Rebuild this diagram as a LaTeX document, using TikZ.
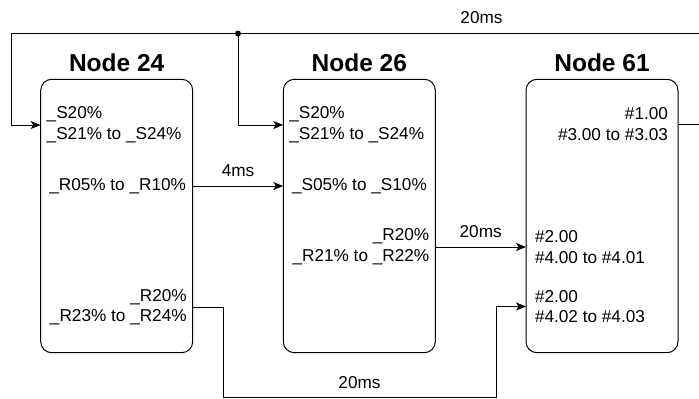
\documentclass[tikz,border=0pt]{standalone}
\usepackage{fontspec}
\setmainfont{Liberation Sans}
\usetikzlibrary{arrows.meta,positioning}

\begin{document}
\begin{tikzpicture}[x=1pt,y=-1pt,>={Stealth[length=10pt,width=8pt,inset=2.5pt]},line width=1pt,
    box/.style={draw,rounded corners=11pt,minimum width=152pt,minimum height=273.4pt,inner sep=0pt,outer sep=0pt},
    title/.style={font=\fontsize{24.5}{29}\selectfont\bfseries,inner sep=0pt,outer sep=0pt},
    txt/.style={font=\fontsize{17.2}{20.7}\selectfont,inner sep=0pt,outer sep=0pt,align=left},
    txtr/.style={txt,align=right},
    lbl/.style={font=\fontsize{17.2}{20.7}\selectfont,inner sep=0pt,outer sep=0pt}]
    \useasboundingbox (0,0) rectangle (699,399);

    \node[box] (n24) at (116.7,216) {};
    \node[box] (n26) [right=90.6pt of n24] {};
    \node[box] (n61) [right=90.7pt of n26] {};

    \node[title] (t24) [above=7.6pt of n24] {Node 24};
    \node[title] (t26) [above=7.6pt of n26] {Node 26};
    \node[title] (t61) [above=7.6pt of n61] {Node 61};

    \node[txt,anchor=west,xshift=6pt] (n24a) at (n24.west |- 0,125) {\_S20\%\\\_S21\% to \_S24\%};
    \node[txt,anchor=west,xshift=8.6pt] (n24b) at (n24.west |- 0,186) {\_R05\% to \_R10\%};
    \node[txtr,anchor=east,xshift=-6pt] (n24c) at (n24.east |- 0,307.2) {\_R20\%\\\_R23\% to \_R24\%};

    \node[txt,anchor=west,xshift=6pt] (n26a) at (n26.west |- 0,125) {\_S20\%\\\_S21\% to \_S24\%};
    \node[txt,anchor=west,xshift=8.7pt] (n26b) at (n26.west |- 0,186) {\_S05\% to \_S10\%};
    \node[txtr,anchor=east,xshift=-6pt] (n26c) at (n26.east |- 0,247) {\_R20\%\\\_R21\% to \_R22\%};

    \node[txtr,anchor=east,xshift=-10pt] (n61a) at (n61.east |- 0,124.3) {\#1.00\\\#3.00 to \#3.03};
    \node[txt,anchor=west,xshift=9pt] (n61b) at (n61.west |- 0,247) {\#2.00\\\#4.00 to \#4.01};
    \node[txt,anchor=west,xshift=9pt] (n61c) at (n61.west |- 0,306.5) {\#2.00\\\#4.02 to \#4.03};

    \coordinate (fork) at (238,33.5);
    \coordinate (tl) at (11,33.5);
    \coordinate (tr) at (706,33.5);
    \coordinate (b1) at (223,397);
    \coordinate (b2) at (496,397);

    \draw[->] (n61.east |- n61a) -| (tr) -- node[lbl,pos=.323,above=9.5pt] {20ms} (tl) |- (n24.west |- n24a);
    \draw[->] (fork) |- (n26.west |- n26a);
    \fill (fork) circle (3);
    \draw[->] (n24.east |- n24b) -- node[lbl,above=9.5pt] {4ms} (n26.west |- n24b);
    \draw[->] (n26.east |- n26c) -- node[lbl,above=9.5pt] {20ms} (n61.west |- n26c);
    \draw[->] (n24.east |- n24c) -| (b1) -- node[lbl,above=8pt] {20ms} (b2) |- (n61.west |- n61c);
\end{tikzpicture}
\end{document}
